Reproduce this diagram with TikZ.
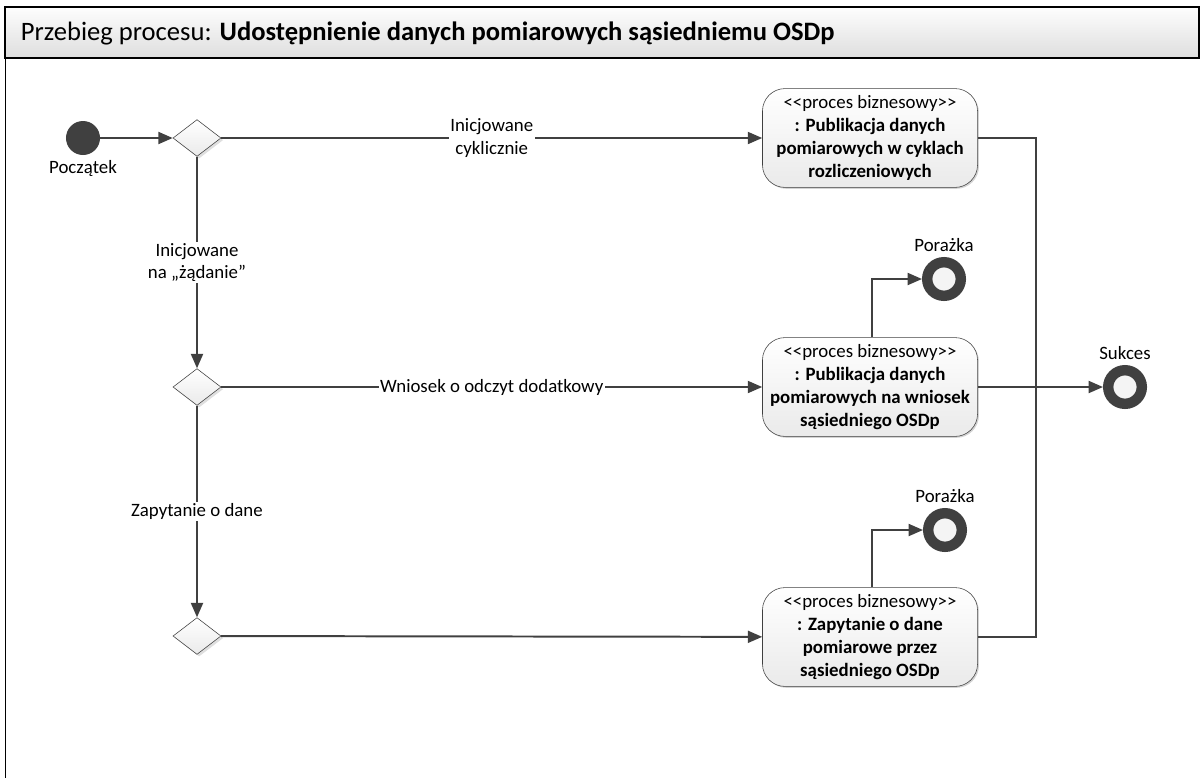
\documentclass[tikz,border=0pt]{standalone}
\usepackage{fontspec}
\setmainfont{Carlito}
\usetikzlibrary{arrows.meta, shapes.geometric, positioning, calc, shadows}
\definecolor{linegray}{HTML}{404040}
\definecolor{boxgray}{HTML}{EAEAEA}
\definecolor{bargray}{HTML}{DEDEDE}
\tikzset{
  proces/.style={
    rectangle, rounded corners=16pt, draw=linegray, thin,
    top color=white, bottom color=boxgray,
    drop shadow={shadow xshift=1pt, shadow yshift=-1pt, opacity=0.35},
    minimum width=5.375cm, minimum height=2.47cm, inner sep=2pt,
    align=center, font=\fontsize{13.4}{16.2}\selectfont
  },
  decision/.style={
    diamond, draw=linegray, thin, top color=white, bottom color=boxgray,
    drop shadow={shadow xshift=1.5pt, shadow yshift=-1.5pt, opacity=0.25},
    minimum width=1.2cm, minimum height=0.92cm, inner sep=0pt
  },
  start/.style={circle, fill=linegray, minimum size=0.85cm, inner sep=0pt},
  finish/.style={circle, draw=linegray, line width=0.26cm, fill=boxgray!50,
    minimum size=0.84cm, inner sep=0pt},
  lbl/.style={font=\fontsize{13.4}{16.2}\selectfont, align=center},
  arrow/.style={-{Triangle[length=0.36cm, width=0.3cm]}, line width=1.4pt, draw=linegray},
  link/.style={line width=1.4pt, draw=linegray}
}

\begin{document}
\begin{tikzpicture}[x=0.025cm, y=-0.025cm]
\useasboundingbox (0,0) rectangle (1200,777);

% frame and title
\draw[black, line width=0.6pt] (5,58) -- (5,790);
\draw[black, line width=1pt, top color=white!95!bargray, bottom color=bargray]
  (5,7) rectangle (1199,58);
\node[anchor=west, font=\fontsize{18.9}{22}\selectfont] (title) at (16,33)
  {Przebieg procesu: \textbf{Udostępnienie danych pomiarowych sąsiedniemu OSDp}};

% nodes
\node[start, label={[lbl]below:Początek}] (poczatek) at (83,138) {};
\node[decision] (d1) at (197,138) {};
\node[decision] (d2) at (197,387) {};
\node[decision] (d3) at (197,636) {};

\node[proces] (cykl) at (870,138)
  {{<}{<}proces biznesowy{>}{>}\\\textbf{: Publikacja danych}\\\textbf{pomiarowych w cyklach}\\\textbf{rozliczeniowych}};
\node[proces] (wniosek) at (870,387)
  {{<}{<}proces biznesowy{>}{>}\\\textbf{: Publikacja danych}\\\textbf{pomiarowych na wniosek}\\\textbf{sąsiedniego OSDp}};
\node[proces] (zapyt) at (870,637)
  {{<}{<}proces biznesowy{>}{>}\\\textbf{: Zapytanie o dane}\\\textbf{pomiarowe przez}\\\textbf{sąsiedniego OSDp}};

\node[finish, label={[lbl]above:Porażka}] (porazka1) at (944,279) {};
\node[finish, label={[lbl]above:Porażka}] (porazka2) at (945,530) {};
\node[finish, label={[lbl]above:Sukces}] (sukces) at (1125,387) {};
\coordinate (join) at (1036,387);

% connectors
\draw[arrow] (poczatek) -- (d1);
\draw[arrow] (d1) -- node[lbl, fill=white, inner sep=1pt] {Inicjowane\\cyklicznie} (cykl);
\draw[arrow] (d1) -- node[lbl, fill=white, inner sep=1pt] {Inicjowane\\na „żądanie”} (d2);
\draw[arrow] (d2) -- node[lbl, fill=white, inner sep=1pt] {Wniosek o odczyt dodatkowy} (wniosek);
\draw[arrow] (d2) -- node[lbl, fill=white, inner sep=1pt] {Zapytanie o dane} (d3);
\draw[arrow] (d3) -- (zapyt);

\draw[arrow] ($(wniosek.north)+(2,0)$) |- (porazka1);
\draw[arrow] ($(zapyt.north)+(2,0)$) |- (porazka2);
\draw[link] (cykl.east) -| (join);
\draw[link] (zapyt.east) -| (join);
\draw[arrow] (wniosek) -- (sukces);

\end{tikzpicture}
\end{document}
